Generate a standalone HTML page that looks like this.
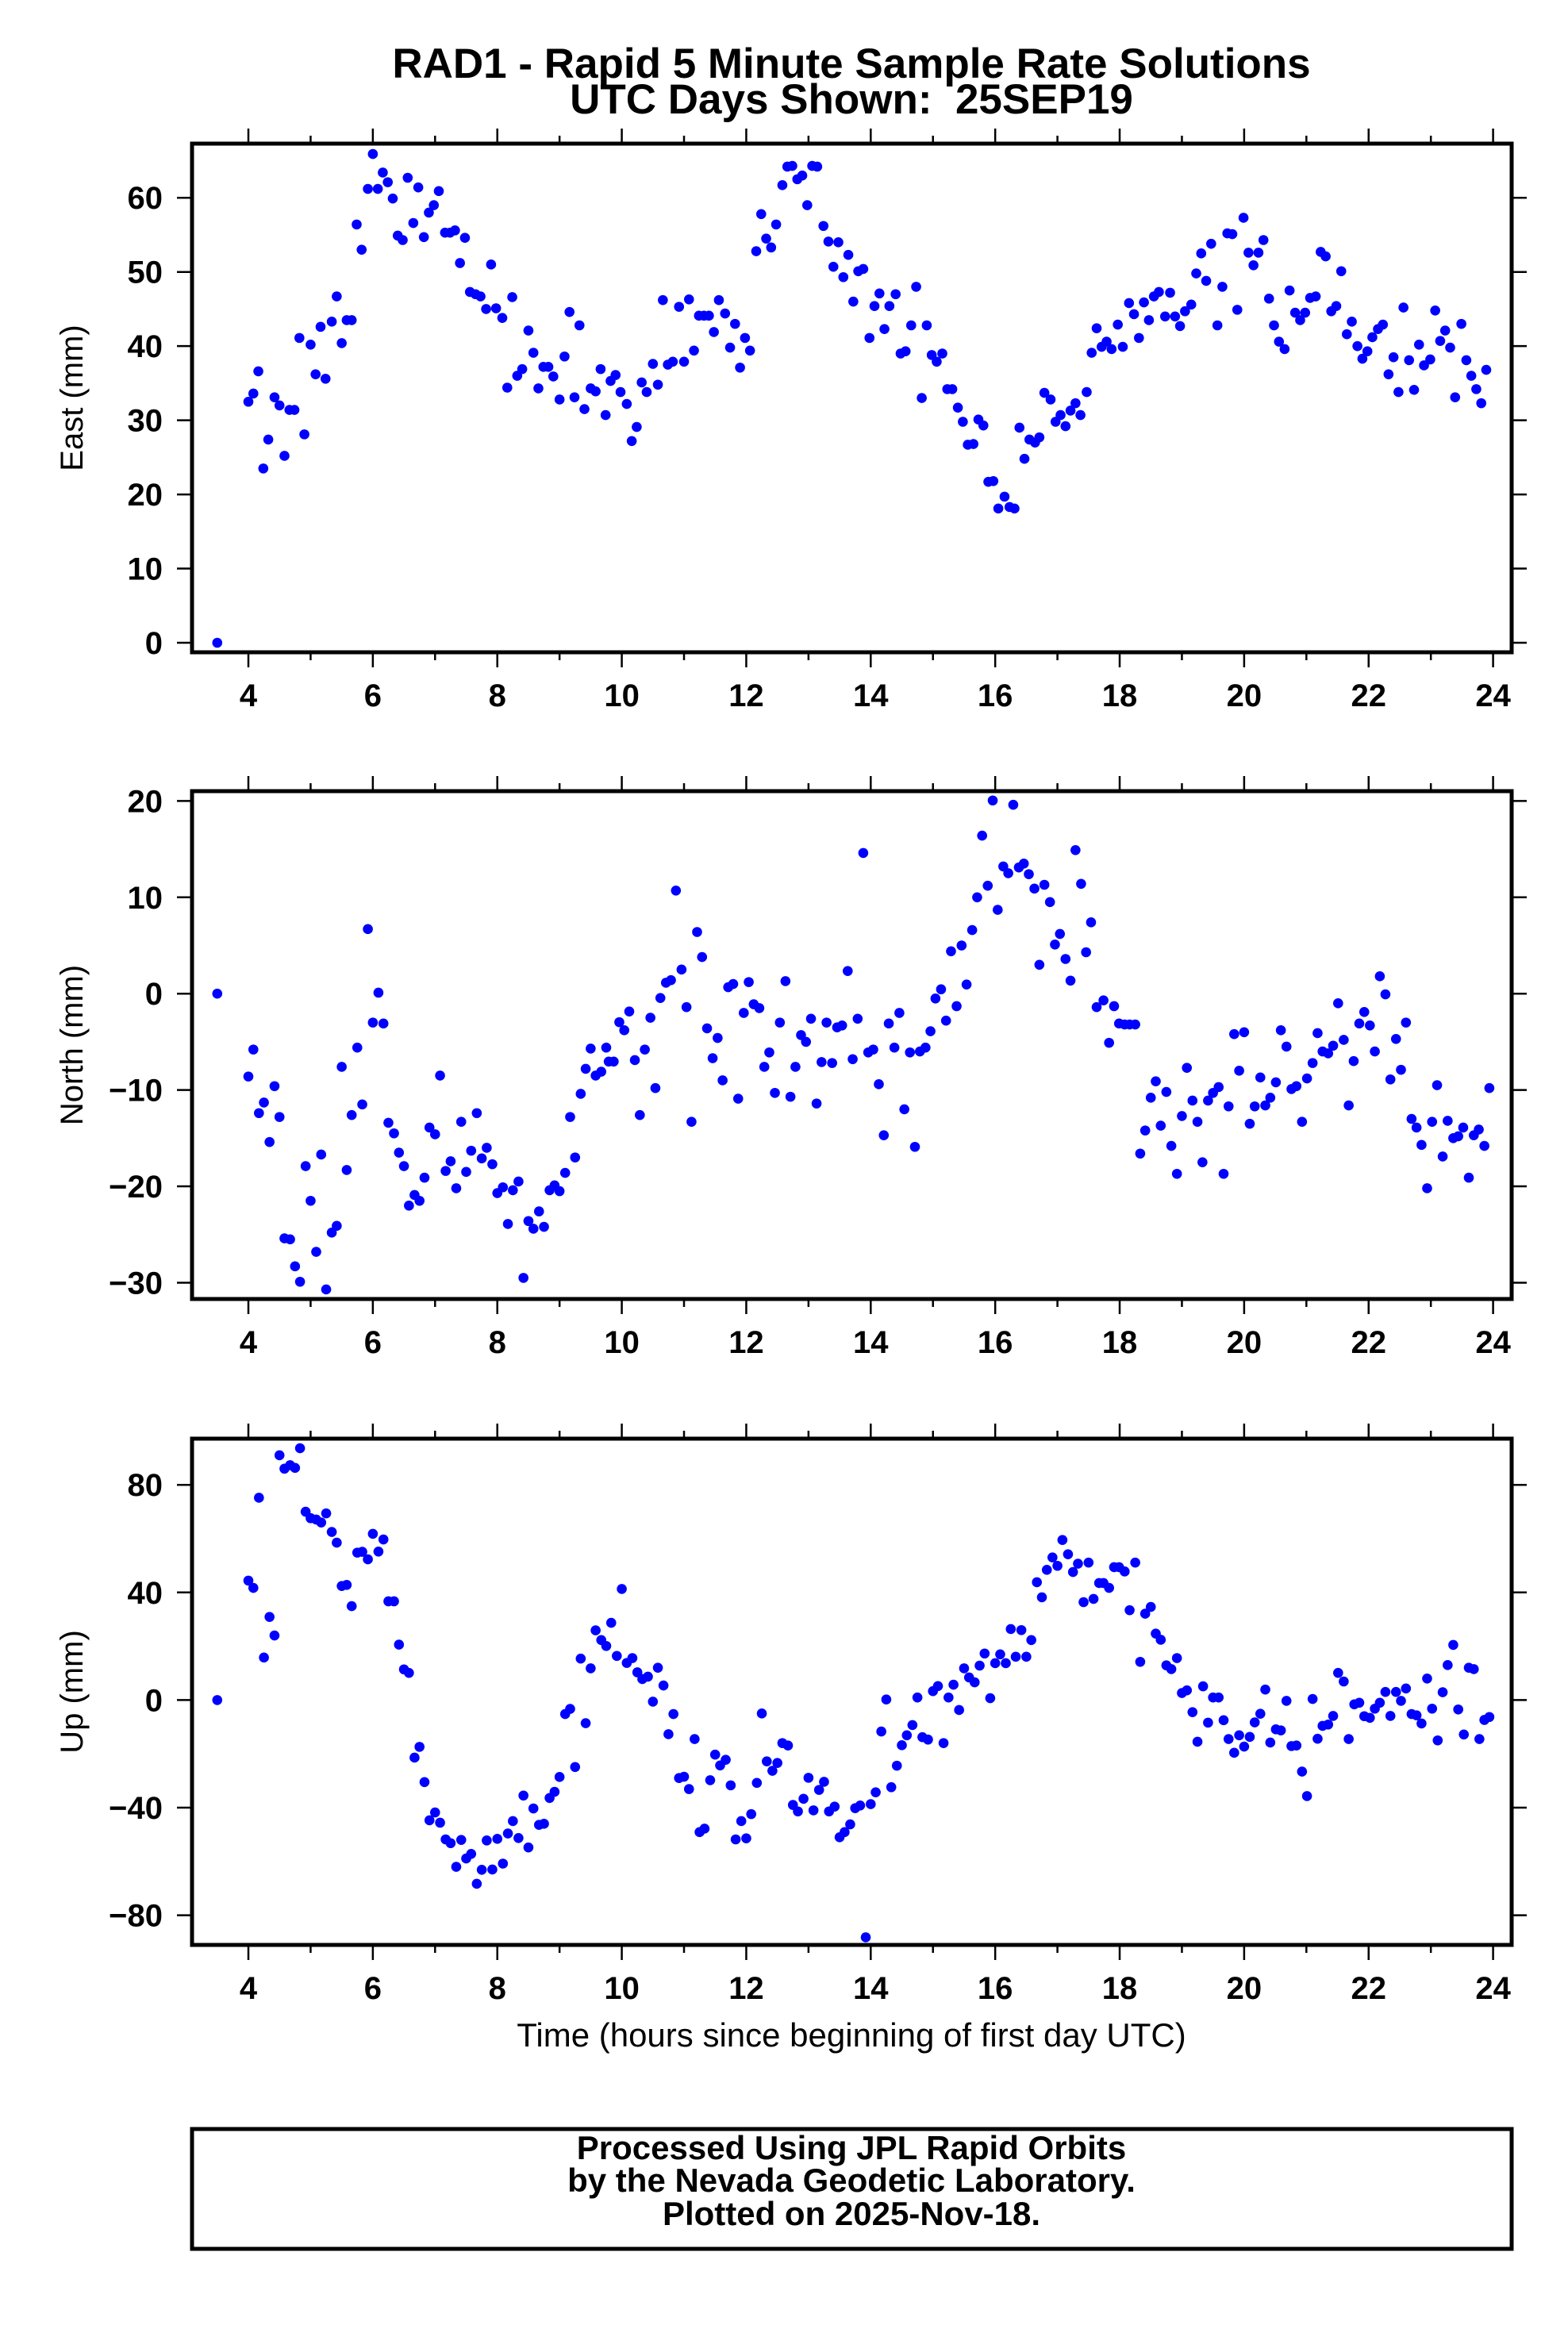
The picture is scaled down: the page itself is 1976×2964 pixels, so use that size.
<!DOCTYPE html>
<html><head><meta charset="utf-8"><title>RAD1 - Rapid 5 Minute Sample Rate Solutions</title>
<style>
html,body{margin:0;padding:0;background:#fff;}
svg{display:block;}
text{font-family:"Liberation Sans",Arial,sans-serif;fill:#000;}
</style></head>
<body>
<svg id="fig" width="1976" height="2964" viewBox="0 0 1976 2964" xmlns="http://www.w3.org/2000/svg">
<rect x="0" y="0" width="1976" height="2964" fill="#fff"/>
<text x="1073" y="98" text-anchor="middle" font-size="53" font-weight="bold">RAD1 - Rapid 5 Minute Sample Rate Solutions</text>
<text x="1073" y="143" text-anchor="middle" font-size="53" font-weight="bold">UTC Days Shown:&#160; 25SEP19</text>
<g id="plots"></g>
<text x="1073" y="2579" text-anchor="middle" font-size="42">Time (hours since beginning of first day UTC)</text>
<rect x="242" y="2683" width="1663" height="151" fill="none" stroke="#000" stroke-width="5"/>
<text x="1073" y="2721" text-anchor="middle" font-size="42" font-weight="bold">Processed Using JPL Rapid Orbits</text>
<text x="1073" y="2762" text-anchor="middle" font-size="42" font-weight="bold">by the Nevada Geodetic Laboratory.</text>
<text x="1073" y="2804" text-anchor="middle" font-size="42" font-weight="bold">Plotted on 2025-Nov-18.</text>
</svg>
<script>
// ---------- data ----------
const xTicks = [4,6,8,10,12,14,16,18,20,22,24];
const eastTicks = [0,10,20,30,40,50,60];
const northTicks = [-30,-20,-10,0,10,20];
const upTicks = [-80,-40,0,40,80];

const eastT = [3.5,4.0,4.08,4.16,4.24,4.32,4.42,4.5,4.58,4.66,4.74,4.82,4.9,5.0,5.08,5.16,5.24,5.34,5.42,5.5,5.58,5.66,5.74,5.82,5.92,6.0,6.08,6.16,6.24,6.32,6.4,6.48,6.56,6.65,6.73,6.82,6.9,6.98,7.06,7.16,7.24,7.32,7.4,7.48,7.56,7.65,7.73,7.82,7.9,7.98,8.08,8.16,8.24,8.32,8.4,8.5,8.58,8.66,8.74,8.82,8.9,9.0,9.08,9.16,9.24,9.32,9.4,9.5,9.58,9.66,9.74,9.82,9.9,9.98,10.08,10.16,10.24,10.32,10.4,10.5,10.58,10.66,10.74,10.82,10.92,11.0,11.08,11.16,11.24,11.32,11.4,11.48,11.56,11.66,11.74,11.82,11.9,11.98,12.06,12.16,12.24,12.32,12.4,12.48,12.58,12.66,12.74,12.82,12.9,12.98,13.06,13.14,13.24,13.32,13.4,13.48,13.56,13.64,13.72,13.8,13.88,13.98,14.06,14.14,14.22,14.3,14.4,14.48,14.56,14.65,14.73,14.82,14.9,14.98,15.06,15.15,15.23,15.31,15.4,15.48,15.56,15.65,15.73,15.81,15.89,15.97,16.05,16.15,16.23,16.31,16.39,16.47,16.55,16.64,16.71,16.79,16.89,16.97,17.05,17.13,17.21,17.29,17.37,17.47,17.55,17.63,17.71,17.79,17.87,17.97,18.05,18.15,18.23,18.31,18.39,18.47,18.55,18.63,18.73,18.81,18.89,18.97,19.05,19.15,19.23,19.31,19.39,19.47,19.57,19.65,19.73,19.81,19.89,19.99,20.07,20.15,20.23,20.31,20.4,20.48,20.56,20.65,20.73,20.82,20.9,20.98,21.06,21.15,21.23,21.31,21.4,21.48,21.56,21.65,21.73,21.82,21.9,21.98,22.06,22.15,22.23,22.32,22.4,22.48,22.56,22.65,22.73,22.81,22.89,22.99,23.07,23.15,23.23,23.31,23.39,23.49,23.57,23.65,23.73,23.81,23.89];
const eastV = [0,32.5,33.6,36.6,23.5,27.4,33.1,32.0,25.2,31.4,31.4,41.1,28.1,40.2,36.2,42.6,35.6,43.3,46.7,40.4,43.5,43.5,56.4,53.0,61.2,65.9,61.2,63.4,62.1,59.9,54.9,54.3,62.7,56.6,61.4,54.7,58.0,59.0,60.9,55.3,55.3,55.6,51.2,54.6,47.3,47.0,46.7,45.0,51.0,45.1,43.8,34.4,46.6,36.0,36.9,42.1,39.1,34.3,37.2,37.2,35.9,32.8,38.6,44.6,33.1,42.8,31.5,34.3,33.9,36.9,30.7,35.3,36.1,33.8,32.2,27.2,29.1,35.1,33.8,37.6,34.8,46.2,37.5,37.9,45.3,37.9,46.3,39.4,44.1,44.1,44.1,41.9,46.2,44.4,39.8,43.0,37.1,41.1,39.4,52.8,57.8,54.5,53.3,56.4,61.7,64.2,64.3,62.5,63.0,59.0,64.3,64.2,56.2,54.1,50.7,54.0,49.3,52.3,46.0,50.1,50.4,41.1,45.4,47.1,42.3,45.4,47.0,39.0,39.3,42.8,48.0,33.0,42.8,38.8,37.9,39.0,34.2,34.2,31.7,29.8,26.7,26.8,30.1,29.3,21.7,21.8,18.1,19.7,18.3,18.1,29.0,24.8,27.4,27.0,27.7,33.7,32.8,29.8,30.7,29.2,31.3,32.3,30.7,33.8,39.1,42.4,39.9,40.6,39.6,42.9,39.9,45.8,44.3,41.1,45.9,43.5,46.7,47.3,44.0,47.2,44.0,42.7,44.7,45.6,49.8,52.5,48.8,53.8,42.8,48.0,55.2,55.1,44.9,57.3,52.6,50.9,52.6,54.3,46.4,42.8,40.6,39.6,47.5,44.5,43.5,44.5,46.5,46.7,52.7,52.1,44.7,45.4,50.1,41.6,43.3,40.0,38.3,39.3,41.2,42.3,42.9,36.2,38.5,33.8,45.2,38.1,34.1,40.2,37.4,38.2,44.8,40.7,42.1,39.8,33.1,43.0,38.1,36.0,34.2,32.3,36.8];

const northT = [3.5,4.0,4.08,4.17,4.25,4.34,4.42,4.5,4.58,4.67,4.75,4.83,4.92,5.0,5.09,5.17,5.25,5.34,5.42,5.5,5.58,5.66,5.75,5.83,5.92,6.0,6.09,6.17,6.25,6.34,6.42,6.5,6.58,6.67,6.75,6.83,6.91,7.0,7.08,7.17,7.25,7.34,7.42,7.5,7.58,7.67,7.75,7.83,7.92,8.0,8.09,8.17,8.25,8.34,8.42,8.5,8.58,8.67,8.75,8.84,8.92,9.0,9.09,9.17,9.25,9.34,9.42,9.5,9.58,9.67,9.75,9.79,9.87,9.96,10.04,10.12,10.21,10.29,10.37,10.46,10.54,10.62,10.71,10.79,10.87,10.96,11.04,11.12,11.21,11.29,11.37,11.46,11.54,11.62,11.71,11.79,11.87,11.96,12.04,12.12,12.21,12.29,12.37,12.46,12.54,12.63,12.71,12.79,12.88,12.96,13.04,13.13,13.21,13.29,13.38,13.46,13.54,13.63,13.71,13.79,13.88,13.96,14.04,14.13,14.21,14.29,14.38,14.46,14.54,14.63,14.71,14.79,14.88,14.96,15.04,15.13,15.21,15.29,15.38,15.46,15.54,15.63,15.71,15.79,15.88,15.96,16.04,16.13,16.21,16.29,16.38,16.46,16.54,16.63,16.71,16.79,16.88,16.96,17.04,17.13,17.21,17.29,17.38,17.46,17.54,17.63,17.74,17.83,17.91,17.99,18.08,18.16,18.25,18.33,18.41,18.5,18.58,18.66,18.75,18.83,18.92,19.0,19.08,19.17,19.25,19.33,19.42,19.5,19.59,19.67,19.75,19.84,19.92,20.0,20.09,20.17,20.26,20.34,20.42,20.51,20.59,20.68,20.76,20.84,20.93,21.01,21.1,21.18,21.26,21.35,21.43,21.51,21.6,21.68,21.76,21.85,21.93,22.02,22.1,22.18,22.27,22.35,22.44,22.52,22.6,22.69,22.77,22.85,22.94,23.02,23.1,23.19,23.27,23.36,23.44,23.52,23.61,23.69,23.77,23.86,23.94];
const northV = [0,-8.6,-5.8,-12.4,-11.3,-15.4,-9.6,-12.8,-25.4,-25.5,-28.3,-29.9,-17.9,-21.5,-26.8,-16.7,-30.7,-24.8,-24.1,-7.6,-18.3,-12.6,-5.6,-11.5,6.7,-3.0,0.1,-3.1,-13.4,-14.5,-16.5,-17.9,-22.0,-20.9,-21.5,-19.1,-13.9,-14.6,-8.5,-18.4,-17.4,-20.2,-13.3,-18.5,-16.3,-12.4,-17.1,-16.0,-17.7,-20.7,-20.1,-23.9,-20.4,-19.5,-29.5,-23.6,-24.4,-22.6,-24.2,-20.4,-19.9,-20.5,-18.6,-12.8,-17.0,-10.4,-7.8,-5.7,-8.5,-8.1,-5.6,-7.05,-7.05,-2.96,-3.8,-1.85,-6.9,-12.6,-5.8,-2.5,-9.8,-0.45,1.13,1.4,10.7,2.5,-1.4,-13.3,6.4,3.8,-3.6,-6.7,-4.6,-9.0,0.67,1.0,-10.9,-2.0,1.2,-1.1,-1.5,-7.6,-6.1,-10.3,-3.0,1.3,-10.7,-7.6,-4.3,-5.0,-2.6,-11.4,-7.1,-3.0,-7.2,-3.5,-3.3,2.35,-6.8,-2.6,14.6,-6.1,-5.8,-9.4,-14.7,-3.1,-5.6,-2.0,-12.0,-6.1,-15.9,-6.0,-5.6,-3.9,-0.5,0.45,-2.8,4.4,-1.3,5.0,0.95,6.6,10.0,16.4,11.2,20.05,8.7,13.2,12.5,19.6,13.1,13.5,12.4,10.9,3.0,11.3,9.5,5.1,6.2,3.6,1.35,14.9,11.4,4.3,7.4,-1.4,-0.7,-5.1,-1.3,-3.1,-3.2,-3.2,-3.2,-16.6,-14.2,-10.8,-9.1,-13.7,-10.2,-15.8,-18.7,-12.7,-7.7,-11.1,-13.3,-17.5,-11.1,-10.3,-9.7,-18.7,-11.7,-4.2,-8.0,-4.0,-13.5,-11.7,-8.7,-11.6,-10.8,-9.2,-3.8,-5.5,-9.9,-9.6,-13.3,-8.8,-7.2,-4.1,-6.0,-6.2,-5.4,-1.0,-4.8,-11.6,-7.0,-3.1,-1.9,-3.3,-6.0,1.8,-0.07,-8.9,-4.7,-7.9,-3.0,-13.0,-13.9,-15.7,-20.2,-13.3,-9.5,-16.9,-13.2,-15.0,-14.8,-13.9,-19.1,-14.7,-14.1,-15.8,-9.8];

const upT = [3.5,4.0,4.08,4.17,4.25,4.34,4.42,4.5,4.58,4.67,4.75,4.83,4.92,5.0,5.09,5.17,5.25,5.34,5.42,5.5,5.58,5.66,5.75,5.83,5.92,6.0,6.09,6.17,6.25,6.34,6.42,6.5,6.58,6.67,6.75,6.83,6.91,7.0,7.08,7.17,7.25,7.34,7.42,7.5,7.58,7.67,7.75,7.83,7.92,8.0,8.09,8.17,8.25,8.34,8.42,8.5,8.58,8.67,8.75,8.84,8.92,9.0,9.09,9.17,9.25,9.34,9.42,9.5,9.58,9.67,9.75,9.83,9.92,10.0,10.08,10.17,10.25,10.33,10.42,10.5,10.58,10.67,10.75,10.83,10.92,11.0,11.08,11.17,11.25,11.33,11.42,11.5,11.58,11.67,11.75,11.83,11.92,12.0,12.08,12.17,12.25,12.33,12.42,12.5,12.58,12.67,12.75,12.83,12.92,13.0,13.08,13.17,13.25,13.33,13.42,13.5,13.58,13.67,13.75,13.83,13.92,14.0,14.08,14.17,14.25,14.33,14.42,14.5,14.58,14.67,14.75,14.83,14.92,15.0,15.08,15.17,15.25,15.33,15.42,15.5,15.58,15.67,15.75,15.83,15.92,16.0,16.08,16.17,16.25,16.33,16.42,16.5,16.58,16.67,16.75,16.83,16.92,17.0,17.08,17.17,17.25,17.33,17.42,17.5,17.58,17.67,17.74,17.83,17.91,17.99,18.08,18.16,18.25,18.33,18.41,18.5,18.58,18.66,18.75,18.83,18.92,19.0,19.08,19.17,19.25,19.34,19.42,19.5,19.59,19.67,19.75,19.84,19.92,20.0,20.09,20.17,20.26,20.34,20.42,20.51,20.59,20.68,20.76,20.84,20.93,21.01,21.1,21.18,21.26,21.35,21.43,21.51,21.6,21.68,21.77,21.85,21.93,22.02,22.1,22.18,22.27,22.35,22.44,22.52,22.6,22.69,22.77,22.85,22.94,23.02,23.11,23.19,23.27,23.36,23.44,23.53,23.61,23.69,23.78,23.86,23.94];
const upV = [0,44.4,41.7,75.2,15.8,30.9,24.0,91.0,86.0,87.3,86.3,93.6,70.0,67.6,67.1,66.0,69.4,62.5,58.5,42.4,42.8,34.9,54.8,55.1,52.3,61.8,55.2,59.7,36.7,36.7,20.6,11.4,10.1,-21.4,-17.4,-30.5,-44.7,-41.8,-45.6,-51.8,-53.2,-62.0,-52.0,-58.9,-57.2,-68.3,-63.1,-52.2,-63.0,-51.6,-60.8,-49.6,-45.0,-51.3,-35.5,-54.8,-40.3,-46.4,-46.0,-36.4,-34.1,-28.6,-5.2,-3.3,-24.9,15.4,-8.6,11.8,25.9,22.3,20.1,28.7,16.4,41.3,13.8,15.6,10.3,7.8,8.7,-0.6,12.0,5.4,-12.7,-5.2,-29.0,-28.5,-33.1,-14.5,-49.1,-47.8,-29.8,-20.3,-24.3,-22.2,-31.7,-51.8,-45.0,-51.4,-42.4,-30.8,-5.0,-22.8,-26.3,-23.4,-16.0,-16.9,-39.0,-41.4,-36.7,-28.9,-41.0,-33.4,-30.4,-41.4,-39.6,-51.0,-49.1,-46.2,-40.2,-39.2,-88.2,-38.7,-34.3,-11.7,0.2,-32.4,-24.4,-16.8,-13.1,-9.3,0.95,-13.8,-14.7,3.3,5.2,-16.0,0.95,5.7,-3.7,11.8,8.4,6.6,12.8,17.3,0.7,13.7,17.0,13.7,26.4,16.1,26.0,16.1,22.3,43.8,38.2,48.4,53.0,49.9,59.5,54.2,47.6,50.7,36.4,51.1,37.6,43.5,43.5,41.7,49.4,49.4,47.8,33.4,51.1,14.2,32.1,34.6,24.7,22.4,12.9,11.5,15.6,2.6,3.6,-4.5,-15.5,5.1,-8.4,0.95,0.95,-7.5,-14.5,-19.6,-13.1,-17.3,-13.7,-8.3,-5.1,3.9,-15.8,-10.9,-11.3,-0.3,-17.1,-16.9,-26.6,-35.7,0.4,-14.4,-9.6,-9.1,-5.9,10.1,6.9,-14.5,-1.6,-1.0,-6.0,-6.6,-3.2,-1.0,3.0,-5.9,3.0,-0.3,4.3,-5.2,-5.7,-8.7,8.0,-3.2,-15.0,2.9,13.0,20.5,-3.5,-12.8,12.0,11.5,-14.5,-7.4,-6.3];

// ---------- layout ----------
const NS = "http://www.w3.org/2000/svg";
const BOX_L = 242, BOX_R = 1905;
function xScale(h){ return 313 + (h - 4) * 78.43; }
const panels = [
  {name:"east", title:"East (mm)", top:181, bottom:822, zeroY:810, pxPerUnit:9.346, ticks:eastTicks, t:eastT, v:eastV},
  {name:"north", title:"North (mm)", top:997, bottom:1637, zeroY:1252.2, pxPerUnit:12.142, ticks:northTicks, t:northT, v:northV},
  {name:"up", title:"Up (mm)", top:1813, bottom:2451, zeroY:2142.4, pxPerUnit:3.39, ticks:upTicks, t:upT, v:upV}
];
function mk(tag, attrs, parent){
  const e = document.createElementNS(NS, tag);
  for (const k in attrs) e.setAttribute(k, attrs[k]);
  parent.appendChild(e);
  return e;
}
const root = document.getElementById("plots");
panels.forEach(p => {
  const yScale = v => p.zeroY - v * p.pxPerUnit;
  const g = mk("g", {}, root);
  
  
  for (let h = 4; h <= 24; h++) {
    const major = h % 2 === 0;
    const len = major ? 19 : 10;
    const x = xScale(h);
    const tb = mk("line", {x1:x, x2:x, y1:p.bottom, y2:p.bottom + len, stroke:"#000", "stroke-width":2.5}, g);
    
    
    const tt = mk("line", {x1:x, x2:x, y1:p.top, y2:p.top - len, stroke:"#000", "stroke-width":2.5}, g);
    
    
  }
  xTicks.forEach(h => {
    const lab = mk("text", {x:xScale(h), y:p.bottom + 68, "text-anchor":"middle", "font-size":40, "font-weight":"bold"}, g);
    lab.textContent = String(h);
    
    
  });
  p.ticks.forEach(v => {
    const y = yScale(v);
    const tl = mk("line", {x1:BOX_L - 19, x2:BOX_L, y1:y, y2:y, stroke:"#000", "stroke-width":2.5}, g);
    
    
    const tr = mk("line", {x1:BOX_R, x2:BOX_R + 19, y1:y, y2:y, stroke:"#000", "stroke-width":2.5}, g);
    
    
    const lab = mk("text", {x:205, y:y + 14, "text-anchor":"end", "font-size":40, "font-weight":"bold"}, g);
    lab.textContent = v < 0 ? "\u2212" + Math.abs(v) : String(v);
    
    
  });
  const cy = (p.top + p.bottom) / 2;
  const yt = mk("text", {x:0, y:0, "text-anchor":"middle", "font-size":40, transform:"translate(104," + cy + ") rotate(-90)"}, g);
  yt.textContent = p.title;
  
  
  const pts = mk("g", {fill:"#0000ff"}, g);
  
  
  for (let i = 0; i < p.t.length; i++) {
    const c = mk("circle", {cx:xScale(p.t[i]), cy:yScale(p.v[i]), r:6.3}, pts);
    
    
  }
  const fr = mk("rect", {x:BOX_L, y:p.top, width:BOX_R - BOX_L, height:p.bottom - p.top, fill:"none", stroke:"#000", "stroke-width":5}, g);
  
  
});
</script>
</body></html>
